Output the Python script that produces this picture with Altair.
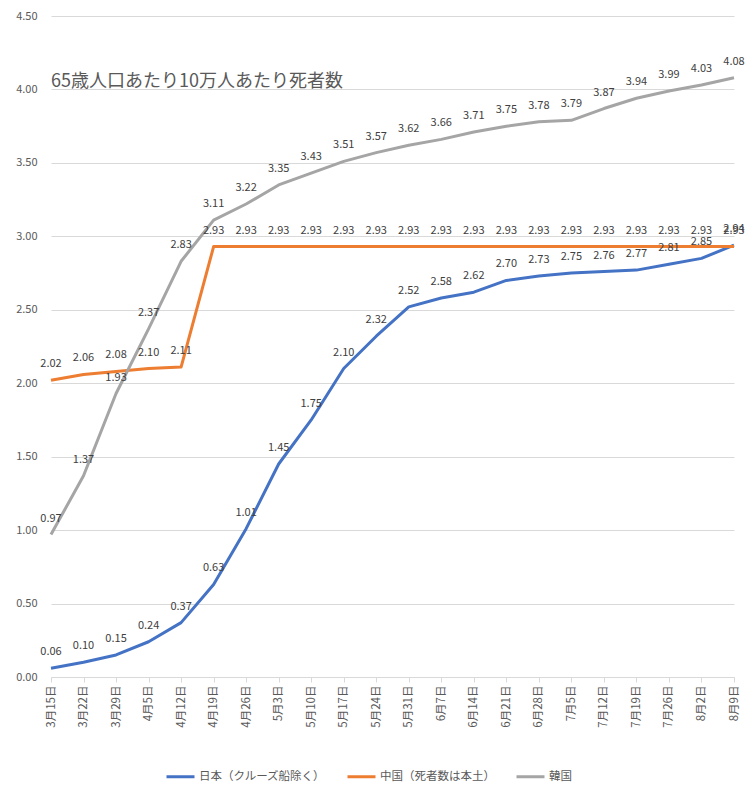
import altair as alt
import pandas as pd

dates = ["3月15日", "3月22日", "3月29日", "4月5日", "4月12日", "4月19日", "4月26日",
         "5月3日", "5月10日", "5月17日", "5月24日", "5月31日", "6月7日", "6月14日",
         "6月21日", "6月28日", "7月5日", "7月12日", "7月19日", "7月26日", "8月2日", "8月9日"]

series_names = ["日本（クルーズ船除く）", "中国（死者数は本土）", "韓国"]
colors = ["#4472C4", "#ED7D31", "#A5A5A5"]

japan = [0.06, 0.10, 0.15, 0.24, 0.37, 0.63, 1.01, 1.45, 1.75, 2.10, 2.32, 2.52,
         2.58, 2.62, 2.70, 2.73, 2.75, 2.76, 2.77, 2.81, 2.85, 2.94]
china = [2.02, 2.06, 2.08, 2.10, 2.11, 2.93, 2.93, 2.93, 2.93, 2.93, 2.93, 2.93,
         2.93, 2.93, 2.93, 2.93, 2.93, 2.93, 2.93, 2.93, 2.93, 2.93]
korea = [0.97, 1.37, 1.93, 2.37, 2.83, 3.11, 3.22, 3.35, 3.43, 3.51, 3.57, 3.62,
         3.66, 3.71, 3.75, 3.78, 3.79, 3.87, 3.94, 3.99, 4.03, 4.08]

y_ticks = [0, 0.5, 1.0, 1.5, 2.0, 2.5, 3.0, 3.5, 4.0, 4.5]
title_text = "65歳人口あたり10万人あたり死者数"

rows = []
for si, (name, vals) in enumerate(zip(series_names, [japan, china, korea])):
    for di, (d, v) in enumerate(zip(dates, vals)):
        rows.append({"date": d, "series": name, "value": v, "sidx": si, "didx": di})
df = pd.DataFrame(rows)

FONT = "Noto Sans CJK JP"

x_enc = alt.X("date:O", sort=dates, scale=alt.Scale(type="point", padding=0),
              axis=alt.Axis(title=None, labelAngle=270, labelFontSize=11.5, labelColor="#595959",
                            labelFont=FONT, domainColor="#D9D9D9", tickColor="#D9D9D9",
                            tickSize=5, labelPadding=3, grid=False))
y_enc = alt.Y("value:Q", scale=alt.Scale(domain=[0, 4.5], nice=False),
              axis=alt.Axis(title=None, values=y_ticks, format=".2f", labelFontSize=11,
                            labelColor="#595959", labelFont=FONT, grid=True,
                            gridColor="#D9D9D9", domain=False, ticks=False, labelPadding=14))

color_enc = alt.Color("series:N", scale=alt.Scale(domain=series_names, range=colors),
                      sort=series_names,
                      legend=alt.Legend(title=None, orient="none", direction="horizontal",
                                        legendX=114, legendY=745, symbolType="stroke",
                                        symbolStrokeWidth=3, symbolSize=784,
                                        labelFontSize=11.5, labelColor="#595959",
                                        labelFont=FONT, columnPadding=15, labelOffset=3,
                                        padding=0))

base = alt.Chart(df)

lines = base.mark_line(strokeWidth=3, strokeJoin="round").encode(
    x=x_enc, y=y_enc, color=color_enc, order="didx:Q",
    detail="sidx:N"
)

labels = base.mark_text(dy=-16, fontSize=11, color="#404040", font=FONT).encode(
    x=alt.X("date:O", sort=dates),
    y="value:Q",
    text=alt.Text("value:Q", format=".2f"),
)

chart = alt.layer(lines, labels).properties(
    width=683, height=661,
    title=alt.TitleParams(title_text, anchor="start", frame="group", fontSize=18,
                          fontWeight="normal", color="#595959", font=FONT,
                          offset=0, dy=95, baseline="alphabetic"),
    autosize=alt.AutoSizeParams(type="none"),
    padding={"left": 43, "top": 8, "right": 11, "bottom": 105},
).configure_view(stroke=None)

chart.save("out.html", embed_options={"renderer": "svg", "actions": False})
